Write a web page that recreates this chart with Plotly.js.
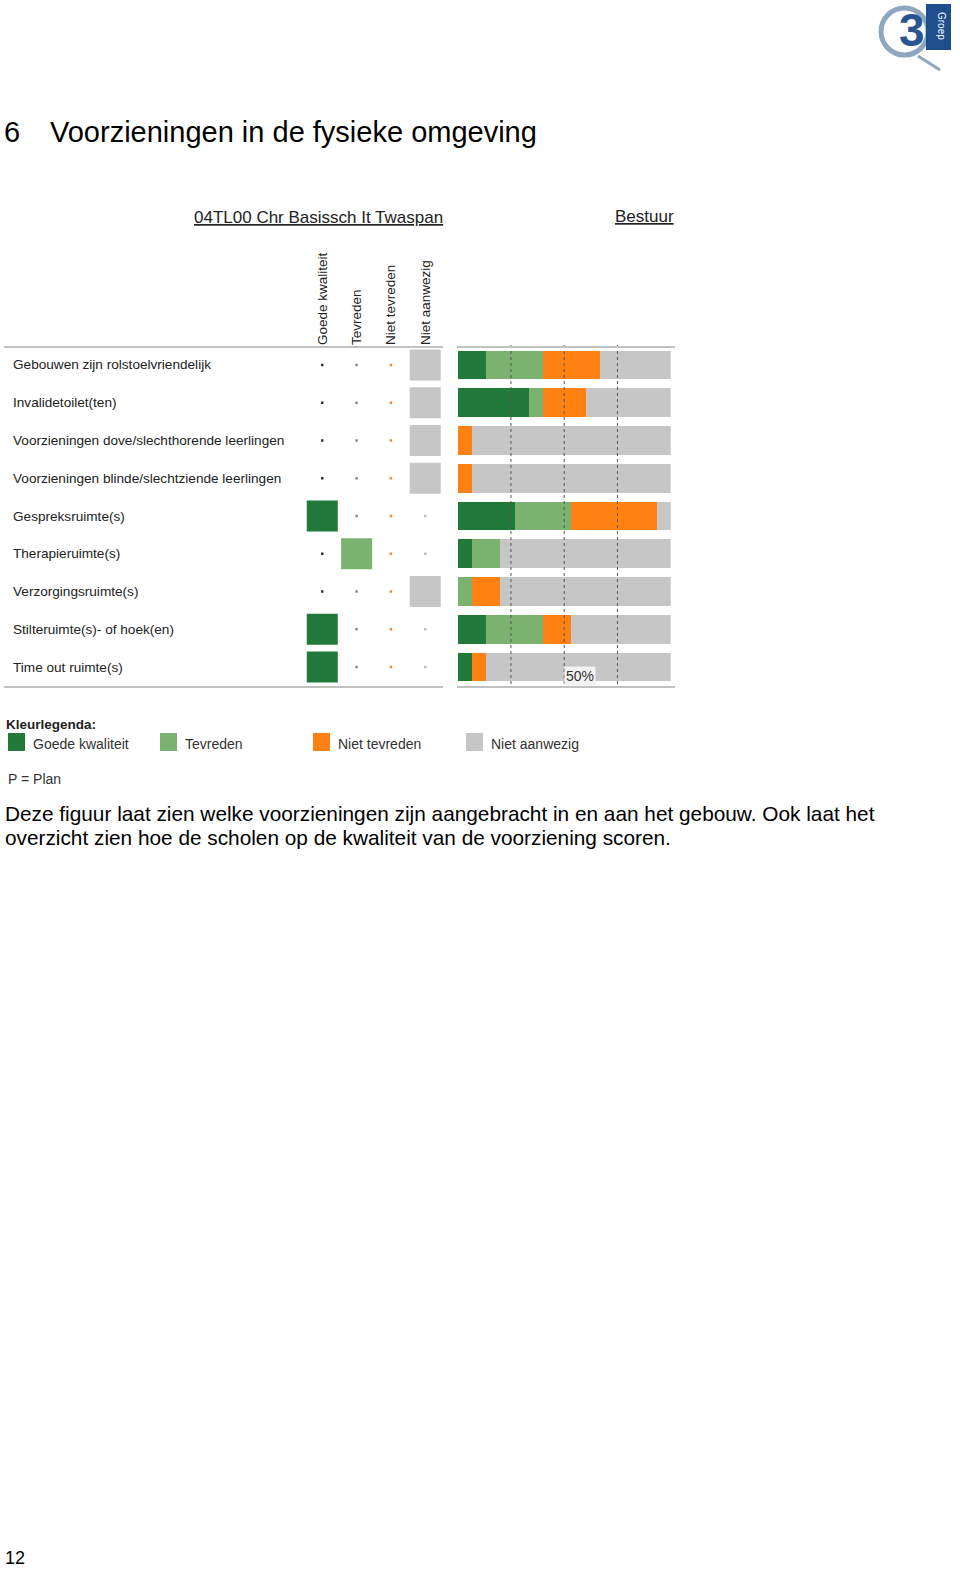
<!DOCTYPE html>
<html>
<head>
<meta charset="utf-8">
<script src="https://cdn.plot.ly/plotly-3.0.1.min.js"></script>
<style>html,body{margin:0;padding:0;background:#fff;} #chart{width:960px;height:1572px;}</style>
</head>
<body>
<div id="chart"></div>
<script>
// ---------- DATA ----------
var categories = [
  "Gebouwen zijn rolstoelvriendelijk",
  "Invalidetoilet(ten)",
  "Voorzieningen dove/slechthorende leerlingen",
  "Voorzieningen blinde/slechtziende leerlingen",
  "Gespreksruimte(s)",
  "Therapieruimte(s)",
  "Verzorgingsruimte(s)",
  "Stilteruimte(s)- of hoek(en)",
  "Time out ruimte(s)"
];
var ratings = ["Goede kwaliteit", "Tevreden", "Niet tevreden", "Niet aanwezig"];
var legendLabels = ["Goede kwaliteit", "Tevreden", "Niet tevreden", "Niet aanwezig"];
// school answer (left panel)
var schoolAnswer = ["Niet aanwezig","Niet aanwezig","Niet aanwezig","Niet aanwezig",
  "Goede kwaliteit","Tevreden","Niet aanwezig","Goede kwaliteit","Goede kwaliteit"];
// Bestuur percentages (right panel)
var goedeKwaliteit = [13.3, 33.3, 0, 0, 26.7, 6.7, 0, 13.3, 6.7];
var tevreden       = [26.7, 6.7, 0, 0, 26.7, 13.3, 6.7, 26.7, 0];
var nietTevreden   = [26.7, 20.0, 6.7, 6.7, 40.0, 0, 13.3, 13.3, 6.7];
var nietAanwezig   = [33.3, 40.0, 93.3, 93.3, 6.7, 80.0, 80.0, 46.7, 86.7];
var gridValues = [25, 50, 75];
var schoolName = "04TL00 Chr Basissch It Twaspan";
var compareName = "Bestuur";
var headingNumber = "6";
var headingText = "Voorzieningen in de fysieke omgeving";
var bodyLines = [
  "Deze figuur laat zien welke voorzieningen zijn aangebracht in en aan het gebouw. Ook laat het",
  "overzicht zien hoe de scholen op de kwaliteit van de voorziening scoren."
];
var pageNumber = "12";

// ---------- STYLE ----------
var colors = ["#217a3a", "#7bb26f", "#ff8112", "#c6c6c6"];
var dotColors = ["#333333", "#8a8a8a", "#f08a3a", "#bdbdbd"];
var W = 960, H = 1572;
function px(x){ return x / W; }
function py(y){ return 1 - y / H; }
var FONT = "Liberation Sans, Arial, sans-serif";

var series = [goedeKwaliteit, tevreden, nietTevreden, nietAanwezig];
var traces = [];

// right panel stacked bars
series.forEach(function(vals, i){
  traces.push({
    type: "bar", orientation: "h", name: ratings[i],
    x: vals, y: categories, xaxis: "x2", yaxis: "y2",
    marker: {color: colors[i], line: {width: 0}},
    width: 0.76, hoverinfo: "skip", showlegend: false
  });
});

// left panel: school squares
traces.push({
  type: "scatter", mode: "markers",
  x: schoolAnswer, y: categories, xaxis: "x", yaxis: "y",
  marker: {symbol: "square", size: 31,
    color: schoolAnswer.map(function(a){ return colors[ratings.indexOf(a)]; }),
    line: {width: 0}},
  hoverinfo: "skip", showlegend: false
});
// left panel: small dots where not chosen
ratings.forEach(function(r, i){
  var ys = categories.filter(function(c, k){ return schoolAnswer[k] !== r; });
  traces.push({
    type: "scatter", mode: "markers",
    x: ys.map(function(){ return r; }), y: ys, xaxis: "x", yaxis: "y",
    marker: {symbol: "square", size: 2.5, color: dotColors[i]},
    hoverinfo: "skip", showlegend: false
  });
});

var yDom = [py(686), py(346)];
var layout = {
  width: W, height: H,
  margin: {l: 0, r: 0, t: 0, b: 0},
  paper_bgcolor: "#ffffff", plot_bgcolor: "rgba(0,0,0,0)",
  barmode: "stack",
  showlegend: false,
  font: {family: FONT, color: "#222"},
  xaxis: {
    domain: [px(305.1), px(442.4)], type: "category",
    categoryorder: "array", categoryarray: ratings,
    range: [-0.5, 3.5], side: "top", tickangle: -90,
    showgrid: false, zeroline: false, showline: false, ticks: "",
    tickfont: {size: 13.5, color: "#222", family: FONT},
    ticklabelstandoff: 0, fixedrange: true, anchor: "y"
  },
  yaxis: {
    domain: yDom, type: "category",
    categoryorder: "array", categoryarray: categories,
    range: [8.5, -0.5], showticklabels: false, showgrid: false,
    zeroline: false, showline: false, fixedrange: true, anchor: "x"
  },
  xaxis2: {
    domain: [px(457.7), px(670.7)], range: [0, 100],
    showticklabels: false, showgrid: false, zeroline: false,
    showline: false, fixedrange: true, anchor: "y2"
  },
  yaxis2: {
    domain: yDom, type: "category",
    categoryorder: "array", categoryarray: categories,
    range: [8.5, -0.5], showticklabels: false, showgrid: false,
    zeroline: false, showline: false, fixedrange: true, anchor: "x2"
  },
  shapes: [],
  annotations: []
};

// dotted gridlines above bars
gridValues.forEach(function(g){
  layout.shapes.push({type: "line", xref: "x2", yref: "paper",
    x0: g, x1: g, y0: py(345), y1: py(688), layer: "above",
    line: {color: "#555", width: 1, dash: "dot"}});
});
// panel separator lines
[[4, 443], [457, 675]].forEach(function(seg){
  [347, 687].forEach(function(yy){
    layout.shapes.push({type: "line", xref: "paper", yref: "paper",
      x0: px(seg[0]), x1: px(seg[1]), y0: py(yy), y1: py(yy),
      line: {color: "#c2c2c2", width: 2}});
  });
});

// row labels
categories.forEach(function(c){
  layout.annotations.push({text: c, xref: "paper", yref: "y",
    x: px(10.5), y: c, xanchor: "left", yanchor: "middle", showarrow: false,
    font: {size: 13.6, color: "#222", family: FONT}});
});
// panel titles
layout.annotations.push({text: "<u>" + schoolName + "</u>", xref: "paper", yref: "paper",
  x: px(318), y: py(217), xanchor: "center", yanchor: "middle", showarrow: false,
  font: {size: 17, color: "#222", family: FONT}});
layout.annotations.push({text: "<u>" + compareName + "</u>", xref: "paper", yref: "paper",
  x: px(676), y: py(216), xanchor: "right", yanchor: "middle", showarrow: false,
  font: {size: 17, color: "#222", family: FONT}});
// 50% label
layout.annotations.push({text: "50%", xref: "x2", yref: "paper",
  x: gridValues[1], y: py(676), xanchor: "left", yanchor: "middle", showarrow: false,
  bgcolor: "#f2f2f2", borderpad: 1,
  font: {size: 14, color: "#333", family: FONT}});

// colour legend
layout.annotations.push({text: "<b>Kleurlegenda:</b>", xref: "paper", yref: "paper",
  x: px(4), y: py(725), xanchor: "left", yanchor: "middle", showarrow: false,
  font: {size: 13.5, color: "#222", family: FONT}});
var legX = [8, 160, 313, 466];
legendLabels.forEach(function(l, i){
  layout.shapes.push({type: "rect", xref: "paper", yref: "paper",
    x0: px(legX[i]), x1: px(legX[i] + 17), y0: py(733), y1: py(751),
    fillcolor: colors[i], line: {width: 0}});
  layout.annotations.push({text: l, xref: "paper", yref: "paper",
    x: px(legX[i] + 23), y: py(744), xanchor: "left", yanchor: "middle", showarrow: false,
    font: {size: 14, color: "#333", family: FONT}});
});
layout.annotations.push({text: "P = Plan", xref: "paper", yref: "paper",
  x: px(6), y: py(779), xanchor: "left", yanchor: "middle", showarrow: false,
  font: {size: 14, color: "#333", family: FONT}});

// page heading
layout.annotations.push({text: headingNumber, xref: "paper", yref: "paper",
  x: px(2), y: py(132), xanchor: "left", yanchor: "middle", showarrow: false,
  font: {size: 29, color: "#000", family: FONT}});
layout.annotations.push({text: headingText, xref: "paper", yref: "paper",
  x: px(48), y: py(132), xanchor: "left", yanchor: "middle", showarrow: false,
  font: {size: 29, color: "#000", family: FONT}});
// body text
bodyLines.forEach(function(line, i){
  layout.annotations.push({text: line, xref: "paper", yref: "paper",
    x: px(3), y: py(813 + 24 * i), xanchor: "left", yanchor: "middle",
    align: "left", showarrow: false, font: {size: 20.8, color: "#000", family: FONT}});
});
// page number
layout.annotations.push({text: pageNumber, xref: "paper", yref: "paper",
  x: px(3), y: py(1558), xanchor: "left", yanchor: "middle", showarrow: false,
  font: {size: 18, color: "#000", family: FONT}});

// logo (decorative)
layout.shapes.push({type: "circle", xref: "paper", yref: "paper",
  x0: px(881), x1: px(928), y0: py(55), y1: py(8),
  line: {color: "#8fa6bf", width: 5}, fillcolor: "rgba(0,0,0,0)"});
layout.shapes.push({type: "line", xref: "paper", yref: "paper",
  x0: px(918), x1: px(940), y0: py(56), y1: py(70),
  line: {color: "#8fa6bf", width: 3}});
layout.shapes.push({type: "rect", xref: "paper", yref: "paper",
  x0: px(926), x1: px(951), y0: py(50), y1: py(4),
  fillcolor: "#1f4e8c", line: {width: 0}});
layout.annotations.push({text: "<b>3</b>", xref: "paper", yref: "paper",
  x: px(912), y: py(30), xanchor: "center", yanchor: "middle", showarrow: false,
  font: {size: 46, color: "#2a5490", family: FONT}});
layout.annotations.push({text: "Groep", xref: "paper", yref: "paper",
  x: px(942), y: py(26), xanchor: "center", yanchor: "middle", showarrow: false,
  textangle: 90, font: {size: 10, color: "#ffffff", family: FONT}});

Plotly.newPlot("chart", traces, layout, {staticPlot: true, displayModeBar: false});
</script>
</body>
</html>
